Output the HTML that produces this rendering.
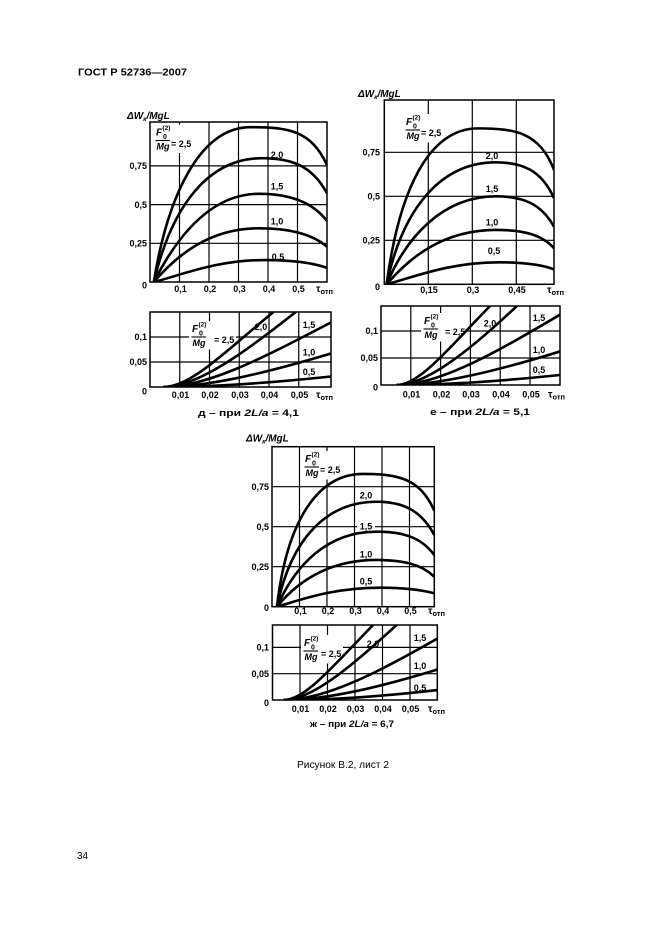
<!DOCTYPE html>
<html><head><meta charset="utf-8">
<style>
html,body{margin:0;padding:0;background:#fff;}
svg{display:block;}
text{font-family:"Liberation Sans","DejaVu Sans",sans-serif;fill:#000;}
.t{font-size:9px;font-weight:bold;}
.m{text-anchor:middle;}
.e{text-anchor:end;}
.i{font-style:italic;}
.g{stroke:#000;stroke-width:1.2;fill:none;}
.f{fill:none;stroke:#000;stroke-width:1.5;}
.c{fill:none;stroke:#000;stroke-width:2.6;vector-effect:non-scaling-stroke;}
</style></head><body>
<svg width="661" height="936" viewBox="0 0 661 936" xmlns="http://www.w3.org/2000/svg">
<rect width="661" height="936" fill="#fff"/>
<defs>
<clipPath id="ca"><rect x="150" y="122" width="177" height="160"/></clipPath>
<clipPath id="cas"><rect x="150" y="312" width="181" height="75"/></clipPath>
<clipPath id="cb"><rect x="384.3" y="100" width="169.7" height="184.3"/></clipPath>
<clipPath id="cbs"><rect x="381" y="306" width="179" height="79"/></clipPath>
<clipPath id="cc"><rect x="272" y="446.7" width="162.3" height="160"/></clipPath>
<clipPath id="ccs"><rect x="272.5" y="625" width="164.8" height="75"/></clipPath>
</defs>

<!-- Header -->
<text class="t" style="font-size:10.5px" x="78" y="75.5" textLength="109" lengthAdjust="spacingAndGlyphs">ГОСТ Р 52736—2007</text>

<!-- ================= Chart A big ================= -->
<path class="g" d="M179.5 122V282M209 122V282M238.5 122V282M268 122V282M297.5 122V282M150 243.3H327M150 204.6H327M150 165.9H327"/>
<rect class="f" x="150" y="122" width="177" height="160"/>
<g transform="translate(156,135.5)">
<rect x="-3" y="-11" width="40" height="28.5" fill="#fff"/>
</g>
<g clip-path="url(#ca)"><g transform="matrix(295 0 0 -154.8 150 282)">
<path class="c" d="M0.013,0 C0.06,0.56 0.17,1.0 0.34,1.0 C0.47,1.0 0.545,0.98 0.6,0.756"/>
<path class="c" d="M0.013,0 C0.075,0.5 0.2,0.8 0.38,0.8 C0.48,0.8 0.55,0.75 0.6,0.573"/>
<path class="c" d="M0.013,0 C0.085,0.27 0.2,0.57 0.37,0.57 C0.47,0.57 0.55,0.52 0.6,0.394"/>
<path class="c" d="M0.013,0 C0.09,0.17 0.2,0.347 0.37,0.347 C0.47,0.347 0.55,0.31 0.6,0.228"/>
<path class="c" d="M0.013,0 C0.1,0.04 0.22,0.142 0.39,0.142 C0.48,0.142 0.55,0.125 0.6,0.092"/>
</g></g>
<g transform="translate(156,135.5)">
<text class="t i" style="font-size:10px" x="0" y="0">F</text>
<text class="t" style="font-size:6.5px" x="6.5" y="-5.5">(2)</text>
<text class="t" style="font-size:7px" x="7" y="3.5">0</text>
<line x1="-0.5" y1="5" x2="14" y2="5" stroke="#000" stroke-width="1.1"/>
<text class="t i" x="0.5" y="14">Mg</text>
<text class="t" x="15" y="11.5">= 2,5</text>
</g>
<text class="t i" style="font-size:10px" x="127" y="119">ΔW<tspan style="font-size:6.5px" dy="2">к</tspan><tspan dy="-2">/MgL</tspan></text>
<text class="t m" x="277" y="158">2,0</text>
<text class="t m" x="277" y="189.5">1,5</text>
<text class="t m" x="277" y="224.5">1,0</text>
<text class="t m" x="278" y="260">0,5</text>
<text class="t e" x="147" y="169">0,75</text>
<text class="t e" x="147" y="207.8">0,5</text>
<text class="t e" x="147" y="246.5">0,25</text>
<text class="t e" x="147" y="288.5">0</text>
<text class="t m" x="180.5" y="292">0,1</text>
<text class="t m" x="210" y="292">0,2</text>
<text class="t m" x="239.5" y="292">0,3</text>
<text class="t m" x="269" y="292">0,4</text>
<text class="t m" x="298.5" y="292">0,5</text>
<text class="t" style="font-size:10px" x="316" y="292">τ<tspan style="font-size:7.5px" dy="2">отп</tspan></text>

<!-- ================= Chart A small ================= -->
<path class="g" d="M179.75 312V387M209.5 312V387M239.25 312V387M269 312V387M298.75 312V387M150 362H331M150 337H331"/>
<rect class="f" x="150" y="312" width="181" height="75"/>
<g transform="translate(192,332)">
<rect x="-3" y="-11" width="47" height="28.5" fill="#fff"/>
</g>
<g clip-path="url(#cas)"><g transform="matrix(2975 0 0 -500 150 387)">
<path class="c" d="M0.0045,0 C0.014,0 0.026,0.075 0.0415,0.15"/>
<path class="c" d="M0.0045,0 C0.016,0 0.032,0.07 0.049,0.15"/>
<path class="c" d="M0.0045,0 C0.02,0 0.04,0.065 0.0608,0.129"/>
<path class="c" d="M0.0045,0 C0.02,0 0.04,0.03 0.0608,0.067"/>
<path class="c" d="M0.0045,0 C0.02,0 0.04,0.008 0.0608,0.021"/>
</g></g>
<g transform="translate(192,332)">
<text class="t i" style="font-size:10px" x="0" y="0">F</text>
<text class="t" style="font-size:6.5px" x="6.5" y="-5.5">(2)</text>
<text class="t" style="font-size:7px" x="7" y="3.5">0</text>
<line x1="-0.5" y1="5" x2="14" y2="5" stroke="#000" stroke-width="1.1"/>
<text class="t i" x="0.5" y="14">Mg</text>
<text class="t" x="22" y="11">= 2,5</text>
</g>
<text class="t m" x="261" y="330">2,0</text>
<text class="t m" x="309" y="328">1,5</text>
<text class="t m" x="309" y="355.5">1,0</text>
<text class="t m" x="309" y="375">0,5</text>
<text class="t e" x="147" y="340.2">0,1</text>
<text class="t e" x="147" y="365.2">0,05</text>
<text class="t e" x="147" y="394.5">0</text>
<text class="t m" x="180.5" y="398">0,01</text>
<text class="t m" x="210" y="398">0,02</text>
<text class="t m" x="240" y="398">0,03</text>
<text class="t m" x="269.5" y="398">0,04</text>
<text class="t m" x="299.5" y="398">0,05</text>
<text class="t" style="font-size:10px" x="316" y="398">τ<tspan style="font-size:7.5px" dy="2">отп</tspan></text>
<text class="t" style="font-size:9.5px" x="198" y="416" textLength="101" lengthAdjust="spacingAndGlyphs">д – при  <tspan class="i">2L/a</tspan> = 4,1</text>

<!-- ================= Chart B big ================= -->
<path class="g" d="M428.3 100V284.3M472.3 100V284.3M516.3 100V284.3M384.3 240.3H554M384.3 196.3H554M384.3 152.3H554"/>
<rect class="f" x="384.3" y="100" width="169.7" height="184.3"/>
<g transform="translate(406,125)">
<rect x="-3" y="-11" width="40" height="28.5" fill="#fff"/>
</g>
<g clip-path="url(#cb)"><g transform="matrix(293.3 0 0 -176 384.3 284.3)">
<path class="c" d="M0.008,0 C0.05,0.53 0.15,0.886 0.32,0.886 C0.45,0.886 0.53,0.86 0.5786,0.65"/>
<path class="c" d="M0.008,0 C0.065,0.45 0.2,0.693 0.38,0.693 C0.47,0.693 0.535,0.65 0.5786,0.489"/>
<path class="c" d="M0.008,0 C0.075,0.27 0.2,0.5 0.38,0.5 C0.47,0.5 0.535,0.46 0.5786,0.327"/>
<path class="c" d="M0.008,0 C0.085,0.15 0.2,0.309 0.38,0.309 C0.47,0.309 0.535,0.285 0.5786,0.205"/>
<path class="c" d="M0.008,0 C0.1,0.04 0.22,0.125 0.39,0.125 C0.48,0.125 0.54,0.11 0.5786,0.085"/>
</g></g>
<g transform="translate(406,125)">
<text class="t i" style="font-size:10px" x="0" y="0">F</text>
<text class="t" style="font-size:6.5px" x="6.5" y="-5.5">(2)</text>
<text class="t" style="font-size:7px" x="7" y="3.5">0</text>
<line x1="-0.5" y1="5" x2="14" y2="5" stroke="#000" stroke-width="1.1"/>
<text class="t i" x="0.5" y="14">Mg</text>
<text class="t" x="15" y="11">= 2,5</text>
</g>
<text class="t i" style="font-size:10px" x="358" y="97">ΔW<tspan style="font-size:6.5px" dy="2">к</tspan><tspan dy="-2">/MgL</tspan></text>
<text class="t m" x="492" y="159">2,0</text>
<text class="t m" x="492" y="192">1,5</text>
<text class="t m" x="492" y="225.5">1,0</text>
<text class="t m" x="494" y="254">0,5</text>
<text class="t e" x="380" y="155.5">0,75</text>
<text class="t e" x="380" y="199.5">0,5</text>
<text class="t e" x="380" y="243.5">0,25</text>
<text class="t e" x="380" y="290">0</text>
<text class="t m" x="429" y="293">0,15</text>
<text class="t m" x="473" y="293">0,3</text>
<text class="t m" x="517" y="293">0,45</text>
<text class="t" style="font-size:10px" x="547" y="293">τ<tspan style="font-size:7.5px" dy="2">отп</tspan></text>

<!-- ================= Chart B small ================= -->
<path class="g" d="M410.8 306V385M440.6 306V385M470.4 306V385M500.2 306V385M530 306V385M381 358H560M381 331H560"/>
<rect class="f" x="381" y="306" width="179" height="79"/>
<g transform="translate(424,324)">
<rect x="-3" y="-11" width="45" height="28.5" fill="#fff"/>
</g>
<g clip-path="url(#cbs)"><g transform="matrix(2980 0 0 -540 381 385)">
<path class="c" d="M0.0053,0 C0.013,0 0.023,0.07 0.0366,0.1463"/>
<path class="c" d="M0.0053,0 C0.015,0 0.029,0.06 0.0456,0.1463"/>
<path class="c" d="M0.0053,0 C0.02,0 0.04,0.065 0.06,0.13"/>
<path class="c" d="M0.0053,0 C0.02,0 0.04,0.028 0.06,0.062"/>
<path class="c" d="M0.0053,0 C0.02,0 0.04,0.007 0.06,0.0185"/>
</g></g>
<g transform="translate(424,324)">
<text class="t i" style="font-size:10px" x="0" y="0">F</text>
<text class="t" style="font-size:6.5px" x="6.5" y="-5.5">(2)</text>
<text class="t" style="font-size:7px" x="7" y="3.5">0</text>
<line x1="-0.5" y1="5" x2="14" y2="5" stroke="#000" stroke-width="1.1"/>
<text class="t i" x="0.5" y="14">Mg</text>
<text class="t" x="21" y="11">= 2,5</text>
</g>
<text class="t m" x="490" y="326.5">2,0</text>
<text class="t m" x="539" y="321">1,5</text>
<text class="t m" x="539" y="353">1,0</text>
<text class="t m" x="539" y="373">0,5</text>
<text class="t e" x="378" y="334.2">0,1</text>
<text class="t e" x="378" y="361.2">0,05</text>
<text class="t e" x="378" y="390.5">0</text>
<text class="t m" x="411.5" y="397.5">0,01</text>
<text class="t m" x="441.5" y="397.5">0,02</text>
<text class="t m" x="471" y="397.5">0,03</text>
<text class="t m" x="501" y="397.5">0,04</text>
<text class="t m" x="531" y="397.5">0,05</text>
<text class="t" style="font-size:10px" x="548" y="397.5">τ<tspan style="font-size:7.5px" dy="2">отп</tspan></text>
<text class="t" style="font-size:9.5px" x="430" y="415" textLength="100" lengthAdjust="spacingAndGlyphs">е – при  <tspan class="i">2L/a</tspan> = 5,1</text>

<!-- ================= Chart C big ================= -->
<path class="g" d="M299.5 446.7V606.7M327 446.7V606.7M354.5 446.7V606.7M382 446.7V606.7M409.5 446.7V606.7M272 566.7H434.3M272 526.7H434.3M272 486.7H434.3"/>
<rect class="f" x="272" y="446.7" width="162.3" height="160"/>
<g transform="translate(305,462)">
<rect x="-3" y="-11" width="40" height="28.5" fill="#fff"/>
</g>
<rect x="357" y="521.5" width="18" height="9" fill="#fff"/>
<g clip-path="url(#cc)"><g transform="matrix(275 0 0 -160 272 606.7)">
<path class="c" d="M0.018,0 C0.055,0.55 0.17,0.83 0.33,0.83 C0.46,0.83 0.54,0.8 0.59,0.60"/>
<path class="c" d="M0.018,0 C0.07,0.43 0.2,0.656 0.38,0.656 C0.47,0.656 0.54,0.61 0.59,0.448"/>
<path class="c" d="M0.018,0 C0.085,0.26 0.2,0.469 0.38,0.469 C0.47,0.469 0.54,0.44 0.59,0.323"/>
<path class="c" d="M0.018,0 C0.09,0.15 0.2,0.292 0.38,0.292 C0.47,0.292 0.54,0.27 0.59,0.1875"/>
<path class="c" d="M0.018,0 C0.1,0.04 0.22,0.119 0.39,0.119 C0.48,0.119 0.54,0.107 0.59,0.084"/>
</g></g>
<g transform="translate(305,462)">
<text class="t i" style="font-size:10px" x="0" y="0">F</text>
<text class="t" style="font-size:6.5px" x="6.5" y="-5.5">(2)</text>
<text class="t" style="font-size:7px" x="7" y="3.5">0</text>
<line x1="-0.5" y1="5" x2="14" y2="5" stroke="#000" stroke-width="1.1"/>
<text class="t i" x="0.5" y="14">Mg</text>
<text class="t" x="15" y="11">= 2,5</text>
</g>
<text class="t i" style="font-size:10px" x="246" y="441.5">ΔW<tspan style="font-size:6.5px" dy="2">к</tspan><tspan dy="-2">/MgL</tspan></text>
<text class="t m" x="366" y="498.5">2,0</text>
<text class="t m" x="366" y="529.5">1,5</text>
<text class="t m" x="366" y="557.5">1,0</text>
<text class="t m" x="366" y="584.5">0,5</text>
<text class="t e" x="269" y="490">0,75</text>
<text class="t e" x="269" y="530">0,5</text>
<text class="t e" x="269" y="570">0,25</text>
<text class="t e" x="269" y="611">0</text>
<text class="t m" x="300.5" y="614">0,1</text>
<text class="t m" x="328" y="614">0,2</text>
<text class="t m" x="355.5" y="614">0,3</text>
<text class="t m" x="383" y="614">0,4</text>
<text class="t m" x="410.5" y="614">0,5</text>
<text class="t" style="font-size:10px" x="428" y="614">τ<tspan style="font-size:7.5px" dy="2">отп</tspan></text>

<!-- ================= Chart C small ================= -->
<path class="g" d="M300 625V700M327.5 625V700M355 625V700M382.5 625V700M410 625V700M272.5 673.7H437.3M272.5 647.4H437.3"/>
<rect class="f" x="272.5" y="625" width="164.8" height="75"/>
<g transform="translate(304,646)">
<rect x="-3" y="-11" width="42" height="28.5" fill="#fff"/>
</g>
<g clip-path="url(#ccs)"><g transform="matrix(2750 0 0 -526 272.5 700)">
<path class="c" d="M0.004,0 C0.012,0 0.022,0.065 0.0366,0.1426"/>
<path class="c" d="M0.004,0 C0.014,0 0.028,0.06 0.0451,0.1426"/>
<path class="c" d="M0.004,0 C0.02,0 0.04,0.058 0.06,0.117"/>
<path class="c" d="M0.004,0 C0.02,0 0.04,0.026 0.06,0.058"/>
<path class="c" d="M0.004,0 C0.02,0 0.04,0.007 0.06,0.019"/>
</g></g>
<g transform="translate(304,646)">
<text class="t i" style="font-size:10px" x="0" y="0">F</text>
<text class="t" style="font-size:6.5px" x="6.5" y="-5.5">(2)</text>
<text class="t" style="font-size:7px" x="7" y="3.5">0</text>
<line x1="-0.5" y1="5" x2="14" y2="5" stroke="#000" stroke-width="1.1"/>
<text class="t i" x="0.5" y="14">Mg</text>
<text class="t" x="17" y="11">= 2,5</text>
</g>
<text class="t m" x="373" y="647">2,0</text>
<text class="t m" x="420" y="641">1,5</text>
<text class="t m" x="420" y="669">1,0</text>
<text class="t m" x="420" y="691">0,5</text>
<text class="t e" x="269" y="650.6">0,1</text>
<text class="t e" x="269" y="676.9">0,05</text>
<text class="t e" x="269" y="706">0</text>
<text class="t m" x="300.5" y="712">0,01</text>
<text class="t m" x="328" y="712">0,02</text>
<text class="t m" x="355.5" y="712">0,03</text>
<text class="t m" x="383" y="712">0,04</text>
<text class="t m" x="410.5" y="712">0,05</text>
<text class="t" style="font-size:10px" x="428" y="712">τ<tspan style="font-size:7.5px" dy="2">отп</tspan></text>
<text class="t" style="font-size:9px" x="310" y="727" textLength="84" lengthAdjust="spacingAndGlyphs">ж – при  <tspan class="i">2L/a</tspan> = 6,7</text>

<!-- Figure caption & page number -->
<text style="font-size:10px" x="297" y="768" textLength="92" lengthAdjust="spacingAndGlyphs">Рисунок В.2, лист 2</text>
<text style="font-size:10px" x="77" y="859">34</text>
</svg>
</body></html>
